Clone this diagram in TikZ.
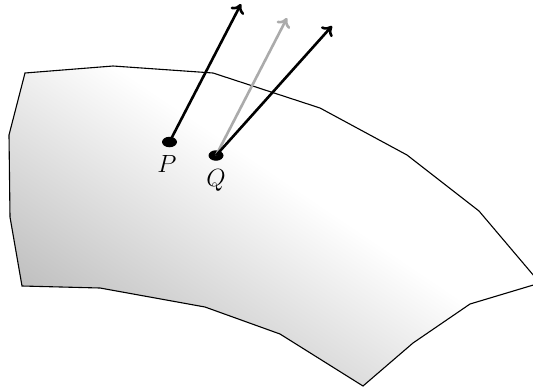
\documentclass[tikz,border=0pt]{standalone}
\usetikzlibrary{arrows.meta,shapes.geometric}
\begin{document}
\begin{tikzpicture}[x=1pt,y=-1pt,
  vec/.style={line width=2.6pt,-{To[length=9pt,width=15pt]}},
  greyvec/.style={vec,draw=black!33},
  pt/.style={ellipse,fill=black,minimum width=15pt,minimum height=10.5pt,inner sep=0pt},
  lbl/.style={font=\fontsize{25}{30}\selectfont,anchor=base,inner sep=0pt}]
\useasboundingbox (0,0) rectangle (533,389);
\def\surf{(25,73) -- (113,66) -- (213,73) -- (320,108) -- (407,155) -- (479,211) -- (540,283)
  -- (470,304) -- (413,343) -- (363,386) -- (280,334) -- (205,307) -- (100,288) -- (22,286)
  -- (10,217) -- (9,135) -- cycle}
\fill[white] \surf;
\begin{scope}
  \clip \surf;
  \begin{scope}[transform canvas={rotate around={56:(35,90)}}]
    \shade[left color=black!32,right color=white] (-200,-700) rectangle (100,700);
  \end{scope}
\end{scope}
\draw[line width=1.1pt,line join=miter] \surf;
\coordinate (pa) at (241,4);
\coordinate (qg) at (287,18);
\coordinate (qa) at (332,26);
\node[pt] (p) at (169.5,142) {};
\node[pt] (q) at (216,155.5) {};
\draw[greyvec] (q.center) -- (qg);
\draw[vec] (p.center) -- (pa);
\draw[vec] (q.center) -- (qa);
\node[lbl] (pl) at (167,172) {$P$};
\node[lbl] (ql) at (216,186) {$Q$};
\end{tikzpicture}
\end{document}
